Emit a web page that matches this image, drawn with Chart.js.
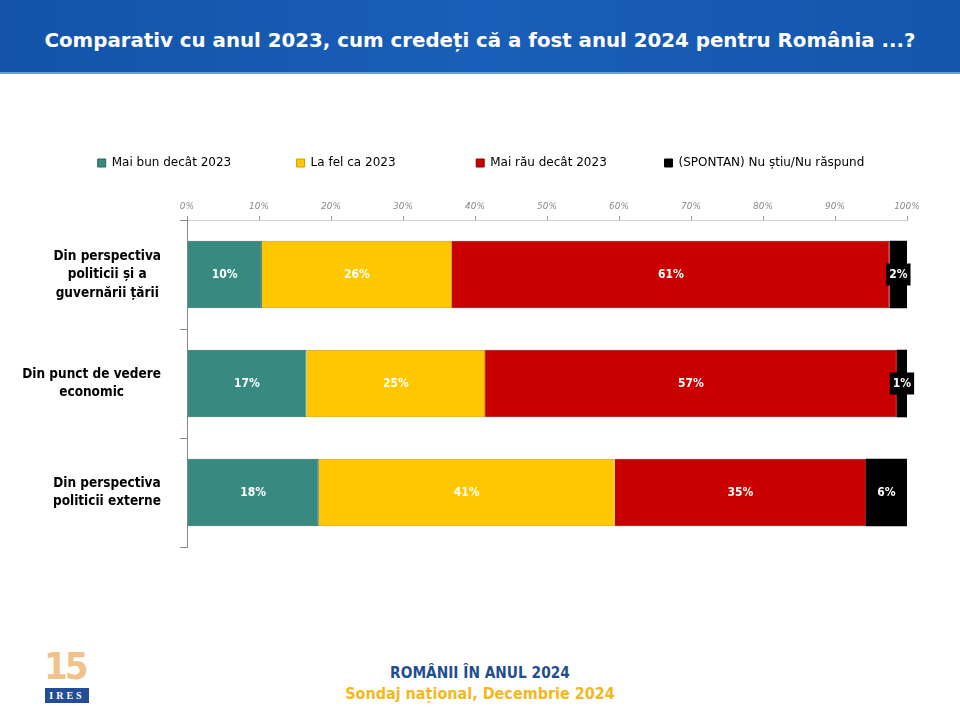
<!DOCTYPE html>
<html>
<head>
<meta charset="utf-8">
<script src="https://cdn.jsdelivr.net/npm/chart.js@4.4.1/dist/chart.umd.min.js"></script>
<style>
  html, body { margin: 0; padding: 0; background: #fff; }
  #page { position: relative; width: 960px; height: 720px; overflow: hidden; font-family: "DejaVu Sans", sans-serif; }
  #header { position: absolute; left: 0; top: 0; width: 960px; height: 72px;
    background: linear-gradient(90deg, #1354aa 0%, #195eb8 50%, #1456ad 100%);
    border-bottom: 2px solid #6f9fd6; }
  #header h1 { margin: 0; position: absolute; left: 0; right: 0; top: 29px; text-align: center;
    color: #fff; font: bold 19.8px "DejaVu Sans", sans-serif; }
  #wrap { position: absolute; left: 0; top: 145px; width: 960px; height: 412px; }
  #footer1 { position: absolute; left: 0; right: 0; top: 664px; text-align: center;
    color: #1f4f8f; font: bold 15.3px "DejaVu Sans Condensed", sans-serif; }
  #footer2 { position: absolute; left: 0; right: 0; top: 684px; text-align: center;
    color: #f4b81c; font: bold 16px "DejaVu Sans Condensed", sans-serif; }
  #logo15 { position: absolute; left: 44px; top: 644px; color: #f0c28c; font: bold 38px "DejaVu Sans Condensed", sans-serif; letter-spacing: -3px; }
  #logoires { position: absolute; left: 45px; top: 688px; width: 44px; height: 15px; background: #234e97;
    color: #fff; font: bold 10px "Liberation Serif", serif; text-align: center; line-height: 15px; letter-spacing: 3px; }
</style>
</head>
<body>
<div id="page">
  <div id="header"><h1>Comparativ cu anul 2023, cum credeți că a fost anul 2024 pentru România ...?</h1></div>
  <div id="wrap"><canvas id="theCanvas" width="960" height="412"></canvas></div>
  <div id="logo15">15</div>
  <div id="logoires">IRES</div>
  <div id="footer1">ROMÂNII ÎN ANUL 2024</div>
  <div id="footer2">Sondaj național, Decembrie 2024</div>
</div>
<script>
// categories (y axis)
var categories = [
  ['Din perspectiva', 'politicii și a', 'guvernării țării'],
  ['Din punct de vedere', 'economic'],
  ['Din perspectiva', 'politicii externe']
]
var seriesNames = ['Mai bun decât 2023', 'La fel ca 2023', 'Mai rău decât 2023', '(SPONTAN) Nu știu/Nu răspund']

// share of answers, %
var maiBun = [10.4, 16.6, 18.3]
var laFel = [26.4, 24.8, 41.1]
var maiRau = [60.8, 57.2, 34.9]
var nuStiu = [2.4, 1.4, 5.7]

// x axis ticks
var xTicks = [0, 10, 20, 30, 40, 50, 60, 70, 80, 90, 100]

var colors = ['rgb(56, 138, 128)', 'rgb(255, 199, 0)', 'rgb(200, 0, 0)', 'rgb(0, 0, 0)']
var borders = ['rgb(38, 100, 92)', 'rgb(205, 158, 0)', 'rgb(140, 0, 0)', 'rgb(0, 0, 0)']

// labels inside the bars
var barLabels = {
  id: 'barLabels',
  afterDatasetsDraw: function(chart){
    var ctx = chart.ctx
    ctx.save()
    ctx.font = 'bold 12px "DejaVu Sans Condensed", sans-serif'
    ctx.textAlign = 'center'
    ctx.textBaseline = 'middle'
    chart.data.datasets.forEach(function(ds, d){
      var meta = chart.getDatasetMeta(d)
      meta.data.forEach(function(bar, i){
        var txt = Math.round(ds.data[i]) + '%'
        var cx = (bar.x + bar.base) / 2
        var cy = bar.y
        if (d === 3){
          var w = ctx.measureText(txt).width + 6
          ctx.fillStyle = '#000'
          ctx.fillRect(cx - w / 2, cy - 11, w, 22)
        }
        ctx.fillStyle = '#fff'
        ctx.fillText(txt, cx, cy)
      })
    })
    ctx.restore()
  }
}

// category labels: block right aligned, lines centred inside the block
var catLabels = {
  id: 'catLabels',
  afterDraw: function(chart){
    var ctx = chart.ctx
    var yScale = chart.scales.y
    var lh = 18.5
    ctx.save()
    ctx.font = 'bold 13.5px "DejaVu Sans Condensed", sans-serif'
    ctx.fillStyle = '#000'
    ctx.textAlign = 'center'
    ctx.textBaseline = 'middle'
    categories.forEach(function(lines, i){
      var y = yScale.getPixelForValue(i)
      var w = 0
      lines.forEach(function(l){ w = Math.max(w, ctx.measureText(l).width) })
      var cx = 161 - w / 2
      var y0 = y - (lines.length - 1) * lh / 2
      lines.forEach(function(l, k){ ctx.fillText(l, cx, y0 + k * lh) })
    })
    ctx.restore()
  }
}

// trailing blanks after each legend entry, to space them like the original
var spaceCount = [14, 18, 12, 0]

var ctx = document.getElementById('theCanvas')
var myChart = new Chart(ctx, {
  type: 'bar',
  data: {
    labels: categories,
    datasets: [
      { label: seriesNames[0], data: maiBun },
      { label: seriesNames[1], data: laFel },
      { label: seriesNames[2], data: maiRau },
      { label: seriesNames[3], data: nuStiu }
    ].map(function(ds, i){
      ds.backgroundColor = colors[i]
      ds.borderColor = borders[i]
      ds.borderWidth = i === 3 ? 0 : 1
      ds.barPercentage = 0.62
      ds.categoryPercentage = 1
      return ds
    })
  },
  options: {
    indexAxis: 'y',
    responsive: false,
    animation: false,
    layout: { padding: { left: 55, right: 53, top: 0, bottom: 10 } },
    plugins: {
      tooltip: { enabled: false },
      legend: {
        position: 'top',
        labels: {
          boxWidth: 8,
          boxHeight: 8,
          padding: 12,
          color: '#222',
          font: { family: '"DejaVu Sans", sans-serif', size: 12 },
          generateLabels: function(chart){
            return chart.data.datasets.map(function(ds, i){
              return {
                text: ds.label + ' '.repeat(spaceCount[i]),
                fillStyle: colors[i],
                strokeStyle: borders[i],
                lineWidth: 1,
                datasetIndex: i
              }
            })
          }
        }
      }
    },
    scales: {
      x: {
        position: 'top',
        stacked: true,
        min: 0,
        max: 100,
        afterBuildTicks: function(axis){
          axis.ticks = xTicks.map(function(v){ return { value: v } })
        },
        afterFit: function(axis){ axis.height = 41; axis.paddingLeft = 0; axis.paddingRight = 0 },
        grid: { drawOnChartArea: false, tickLength: 4, color: '#999' },
        border: { color: '#d0d0d0' },
        ticks: {
          padding: 4,
          color: '#8a8a8a',
          font: { family: '"DejaVu Sans", sans-serif', size: 9, style: 'italic' },
          callback: function(v){ return v + '%' }
        }
      },
      y: {
        stacked: true,
        afterFit: function(axis){ axis.width = 132; axis.paddingTop = 0; axis.paddingBottom = 0 },
        grid: { drawOnChartArea: false, tickLength: 7, color: '#888' },
        border: { color: '#888' },
        ticks: { display: false }
      }
    }
  },
  plugins: [barLabels, catLabels]
})
</script>
</body>
</html>
